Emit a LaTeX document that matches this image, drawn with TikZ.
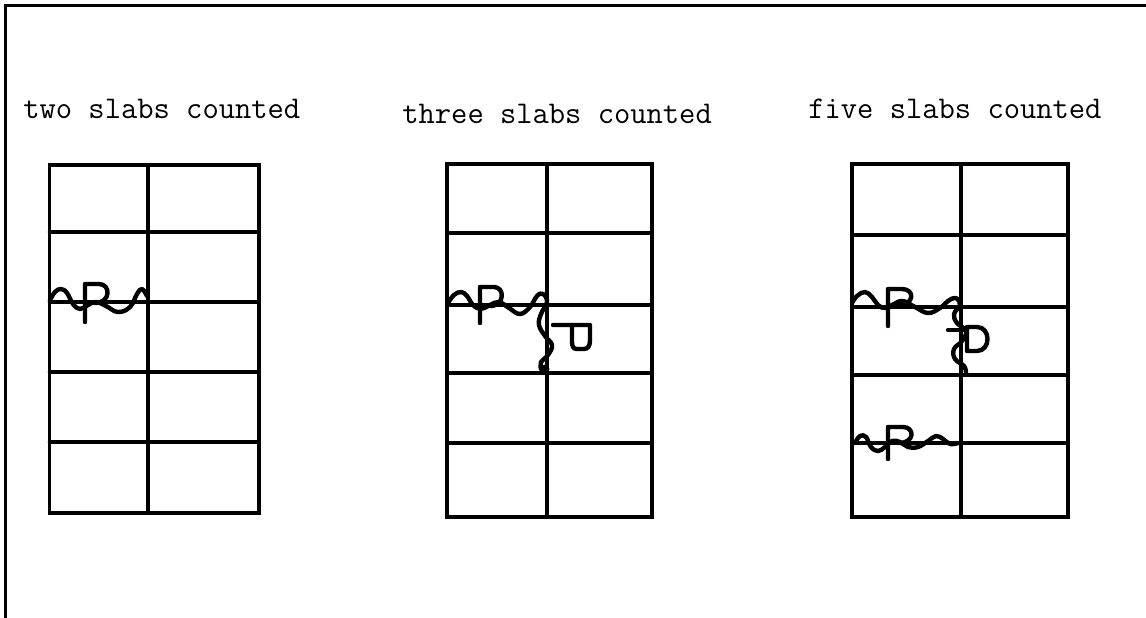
\documentclass[tikz,border=0pt]{standalone}
\tikzset{
  gridline/.style={line width=2pt, line cap=round},
  frameline/.style={line width=1.6pt},
  chain/.style={line width=2.5pt, line cap=round, line join=round},
  label/.style={anchor=base west, inner sep=0pt, font=\fontsize{18}{21}\selectfont\ttfamily}
}
\begin{document}
\begin{tikzpicture}[x=0.02cm, y=-0.02cm]
\useasboundingbox (0,0) rectangle (1146,618);
% frame (top and left only)
\draw[frameline] (1146,5.5) -- (5.5,5.5) -- (5.5,618);
% labels
\node[label] (l1) at (23,119) {two slabs counted};
\node[label] (l2) at (402,124) {three slabs counted};
\node[label] (l3) at (808,119) {five slabs counted};
% grid 1
\draw[gridline] (49.5,165) rectangle (259,513);
\draw[gridline] (148,165) -- (148,513);
\foreach \y in {232,302,372,442} \draw[gridline] (49.5,\y) -- (259,\y);
% grid 2
\draw[gridline] (447,164) rectangle (652,517);
\draw[gridline] (547,164) -- (547,517);
\foreach \y in {233,305,373,443} \draw[gridline] (447,\y) -- (652,\y);
% grid 3
\draw[gridline] (852,164) rectangle (1068,517);
\draw[gridline] (961,164) -- (961,517);
\foreach \y in {235,307,375,443} \draw[gridline] (852,\y) -- (1068,\y);
% chain in grid 1
\draw[chain] plot[smooth, tension=0.7] coordinates {(50,300) (55,292) (61,289) (67,293) (73,304) (80,309) (88,305) (96,302) (106,306) (118,312) (130,307) (137,294) (142,289) (147,296)};
\draw[chain] (85,322) -- (85,284) -- (99,284) .. controls (111,284) and (111,303) .. (95,303);
% chain in grid 2
\draw[chain] plot[smooth, tension=0.7] coordinates {(448,303) (454,295) (461,292) (467,296) (473,305) (481,309) (490,305) (499,302) (509,308) (520,314) (530,307) (537,296) (543,294) (547,302) (541,314) (539,325) (545,336) (552,345) (548,355) (541,362) (541,369)};
\fill (545,369) circle (4.5);
\draw[chain] (480,323) -- (480,287) -- (494,287) .. controls (505,287) and (505,306) .. (490,306);
\draw[chain] (553,325) -- (590,325) -- (590,340) .. controls (590,346) and (588,349) .. (584,349) -- (577,349) .. controls (573,349) and (572,346) .. (572,342) -- (572,325);
% chains in grid 3
\draw[chain] plot[smooth, tension=0.7] coordinates {(852,303) (857,296) (865,292) (872,297) (878,305) (885,308) (894,304) (903,301) (915,307) (928,313) (940,308) (948,301) (956,298) (960,305) (954,314) (957,323) (966,331) (962,341) (954,349) (955,359) (964,366) (966,373)};
\draw[chain] (888,326) -- (888,289) -- (902,289) .. controls (915,289) and (915,305) .. (898,305);
\draw[chain] (948,330) -- (966,330);
\draw[chain] (967,351) -- (967,327) -- (977,327) .. controls (991,327) and (991,351) .. (977,351) -- (967,351);
\draw[chain] plot[smooth, tension=0.7] coordinates {(855,443) (860,436) (866,437) (871,447) (878,451) (885,447) (892,441) (900,442) (908,447) (918,447) (928,441) (936,436) (943,439) (950,444) (958,443)};
\draw[chain] (888,459) -- (888,427) -- (903,427) .. controls (915,427) and (915,443) .. (899,443);
\end{tikzpicture}
\end{document}
